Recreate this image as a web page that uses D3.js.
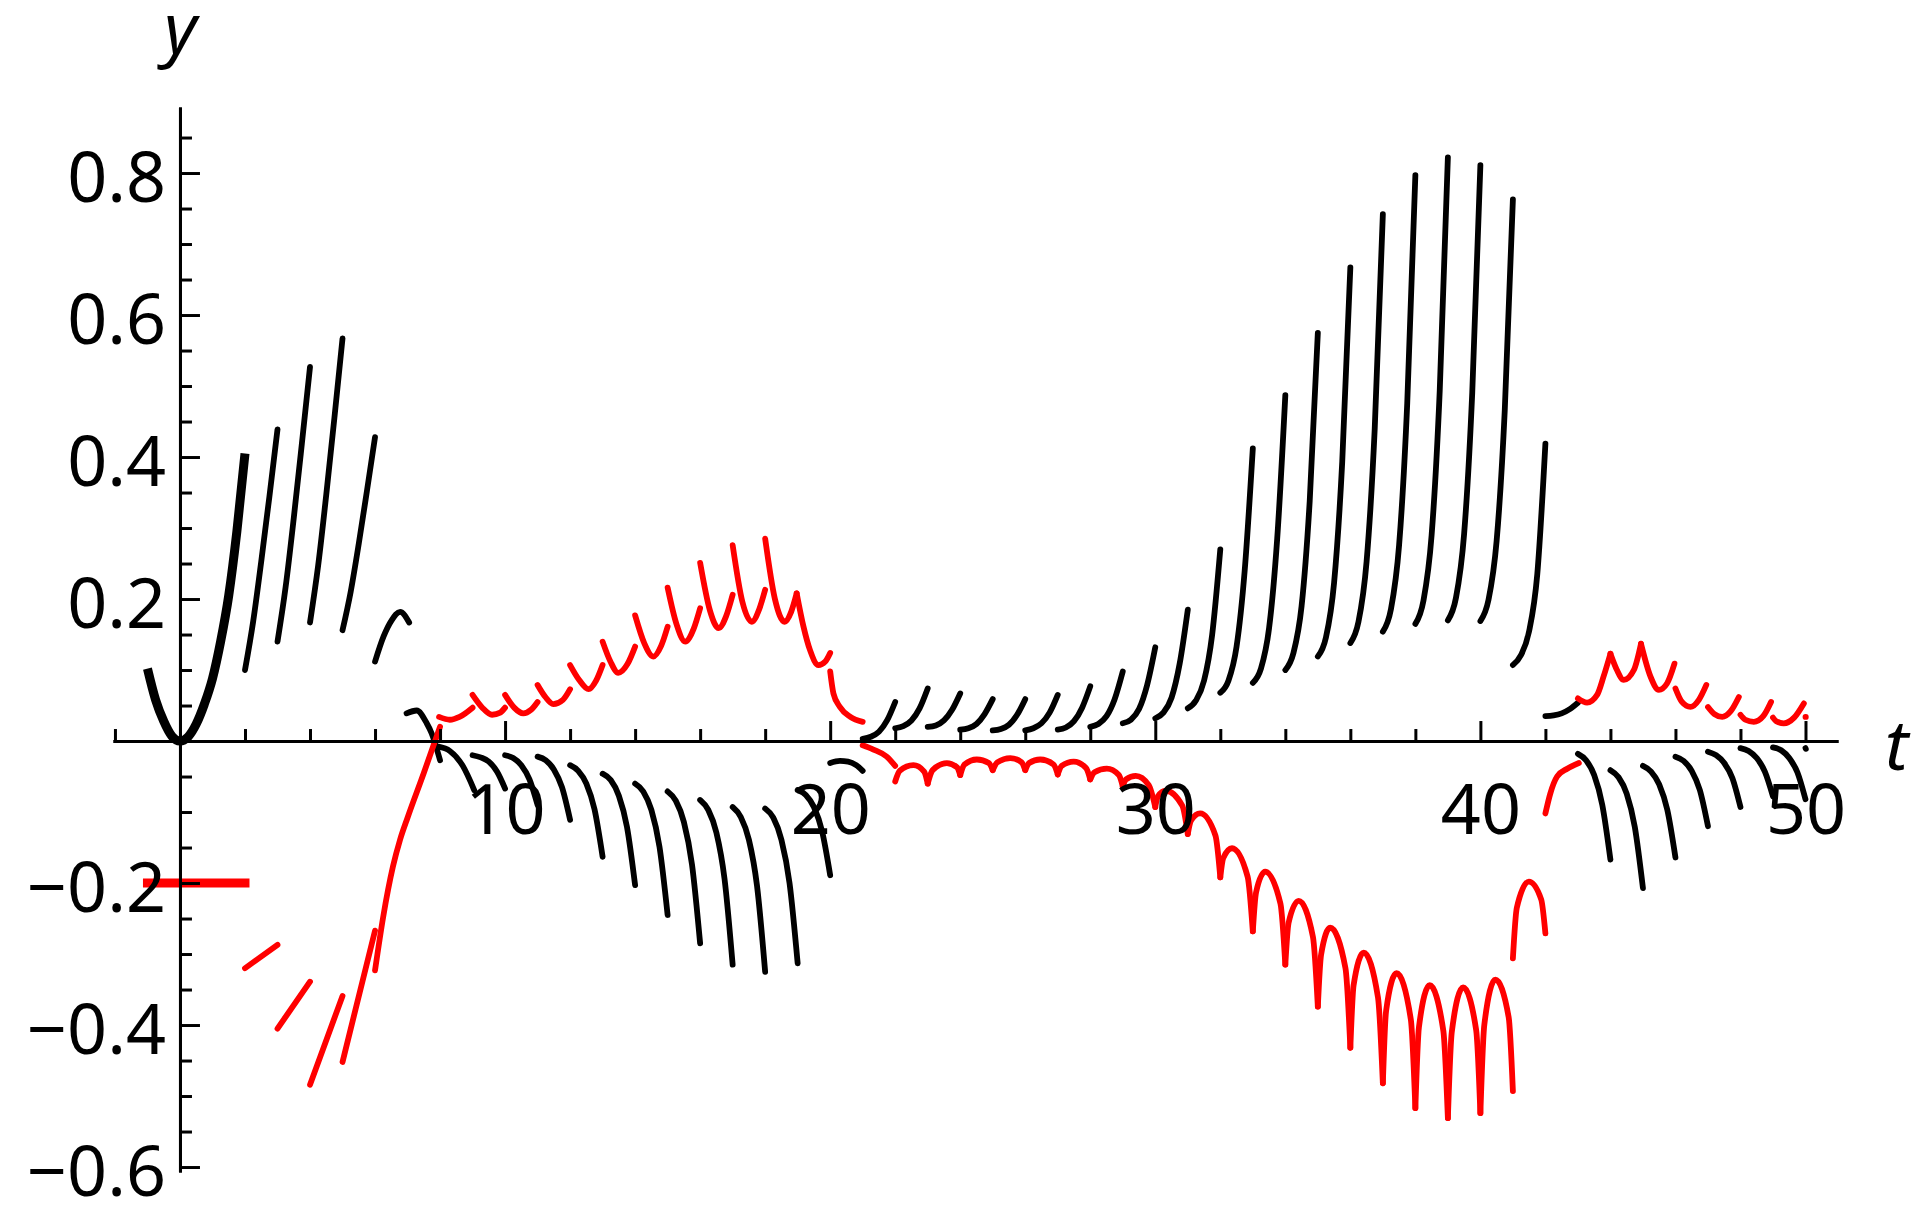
<!DOCTYPE html>
<html><head><meta charset="utf-8">
<script src="https://cdn.jsdelivr.net/npm/d3@7"></script>
<style>html,body{margin:0;padding:0;background:#fff;} svg{display:block;}</style>
</head><body>
<svg id="chart" width="1922" height="1214"></svg>
<script>
// ---------- tick definitions ----------
const xMajorTicks = [10, 20, 30, 40, 50];
const xMinorTicks = [-2, 2, 4, 6, 8, 12, 14, 16, 18, 22, 24, 26, 28, 32, 34, 36, 38, 42, 44, 46, 48];
const yMajorTicks = [-0.6, -0.4, -0.2, 0.2, 0.4, 0.6, 0.8];
const yMinorTicks = [-0.55, -0.5, -0.45, -0.35, -0.3, -0.25, -0.15, -0.1, -0.05, 0.05, 0.1, 0.15, 0.25, 0.3, 0.35, 0.45, 0.5, 0.55, 0.65, 0.7, 0.75, 0.85];

// ---------- data (t, y) ----------
const blackInitial = [[-1,0.102],[-0.75,0.058],[-0.5,0.028],[-0.25,0.007],[0,0],[0.25,0.006],[0.5,0.024],[0.75,0.052],[1,0.088],[1.25,0.14],[1.5,0.205],[1.75,0.295],[2,0.405]];
const redInitial = [[-1,-0.2],[2,-0.2]];

const blackEarly = [
 [[2,0.100],[2.25,0.168],[2.5,0.253],[2.75,0.344],[3,0.439]],
 [[3,0.140],[3.25,0.217],[3.5,0.314],[3.75,0.419],[4,0.527]],
 [[4,0.167],[4.25,0.247],[4.5,0.347],[4.75,0.455],[5,0.567]],
 [[5,0.156],[5.25,0.210],[5.5,0.278],[5.75,0.352],[6,0.428]],
 [[6,0.112],[6.26,0.147],[6.51,0.170],[6.77,0.182],[7.05,0.167]],
 [[6.97,0.039],[7.28,0.043],[7.59,0.025],[7.74,0.011],[8,-0.027]]
];

const blackLowA = [
 [[7.95,-0.008],[8.3,-0.014],[8.7,-0.035],[9.05,-0.069]],
 [[9,-0.020],[9.25,-0.023],[9.5,-0.029],[9.75,-0.043],[10,-0.067]],
 [[10,-0.020],[10.25,-0.024],[10.5,-0.034],[10.75,-0.054],[11,-0.090]],
 [[11,-0.022],[11.25,-0.027],[11.5,-0.040],[11.75,-0.065],[12,-0.111]],
 [[12,-0.034],[12.25,-0.042],[12.5,-0.060],[12.75,-0.096],[13,-0.163]],
 [[13,-0.046],[13.25,-0.055],[13.5,-0.077],[13.75,-0.121],[14,-0.203]],
 [[14,-0.060],[14.25,-0.071],[14.5,-0.097],[14.75,-0.149],[15,-0.245]],
 [[15,-0.071],[15.25,-0.084],[15.5,-0.114],[15.75,-0.174],[16,-0.285]],
 [[16,-0.083],[16.25,-0.097],[16.5,-0.129],[16.75,-0.194],[17,-0.315]],
 [[17,-0.093],[17.25,-0.107],[17.5,-0.139],[17.75,-0.204],[18,-0.325]],
 [[18,-0.095],[18.25,-0.108],[18.5,-0.139],[18.75,-0.200],[19,-0.313]],
 [[19,-0.069],[19.25,-0.076],[19.5,-0.093],[19.75,-0.127],[20,-0.189]],
 [[20,-0.031],[20.3,-0.028],[20.55,-0.029],[20.8,-0.034],[21,-0.042]]
];

const blackHigh = [
 [[21,0.003],[21.25,0.006],[21.5,0.013],[21.75,0.029],[22,0.055]],
 [[22,0.018],[22.25,0.021],[22.5,0.029],[22.75,0.046],[23,0.074]],
 [[23,0.020],[23.25,0.022],[23.5,0.029],[23.75,0.044],[24,0.067]],
 [[24,0.016],[24.25,0.018],[24.5,0.024],[24.75,0.038],[25,0.059]],
 [[25,0.015],[25.25,0.017],[25.5,0.023],[25.75,0.037],[26,0.059]],
 [[26,0.015],[26.25,0.018],[26.5,0.025],[26.75,0.040],[27,0.065]],
 [[27,0.016],[27.25,0.019],[27.5,0.028],[27.75,0.047],[28,0.077]],
 [[28,0.020],[28.25,0.024],[28.5,0.035],[28.75,0.059],[29,0.098]],
 [[29,0.025],[29.25,0.030],[29.5,0.045],[29.75,0.079],[30,0.132]],
 [[30,0.032],[30.25,0.040],[30.5,0.061],[30.75,0.109],[31,0.185]],
 [[31,0.046],[31.25,0.057],[31.5,0.085],[31.75,0.150],[32,0.270]],
 [[32,0.068],[32.25,0.085],[32.5,0.133],[32.75,0.240],[33,0.412]],
 [[33,0.082],[33.25,0.102],[33.5,0.159],[33.75,0.285],[34,0.487]],
 [[34,0.100],[34.25,0.124],[34.5,0.190],[34.75,0.338],[35,0.575]],
 [[35,0.119],[35.25,0.146],[35.5,0.223],[35.75,0.393],[36,0.667]],
 [[36,0.138],[36.25,0.168],[36.5,0.253],[36.75,0.440],[37,0.742]],
 [[37,0.154],[37.25,0.186],[37.5,0.276],[37.75,0.476],[38,0.797]],
 [[38,0.165],[38.25,0.198],[38.5,0.290],[38.75,0.494],[39,0.822]],
 [[39,0.170],[39.25,0.202],[39.5,0.292],[39.75,0.491],[40,0.811]],
 [[40,0.169],[40.25,0.199],[40.5,0.282],[40.75,0.466],[41,0.763]],
 [[41,0.107],[41.25,0.121],[41.5,0.155],[41.75,0.235],[42,0.419]],
 [[42,0.035],[42.25,0.036],[42.5,0.039],[42.75,0.045],[43,0.054]]
];

const blackLowB = [
 [[43,-0.018],[43.25,-0.027],[43.5,-0.048],[43.75,-0.090],[44,-0.167]],
 [[44,-0.041],[44.25,-0.051],[44.5,-0.074],[44.75,-0.121],[45,-0.207]],
 [[45,-0.035],[45.25,-0.043],[45.5,-0.061],[45.75,-0.097],[46,-0.164]],
 [[46,-0.022],[46.25,-0.028],[46.5,-0.042],[46.75,-0.069],[47,-0.120]],
 [[47,-0.015],[47.25,-0.020],[47.5,-0.031],[47.75,-0.052],[48,-0.093]],
 [[48,-0.010],[48.25,-0.014],[48.5,-0.024],[48.75,-0.043],[49,-0.078]],
 [[49,-0.009],[49.25,-0.013],[49.5,-0.024],[49.75,-0.044],[50,-0.082]],
 [[50,-0.010],[50.01,-0.011]]
];

const redEarly = [
 [[2,-0.320],[3,-0.287]],
 [[3,-0.405],[4,-0.339]],
 [[4,-0.484],[5,-0.359]],
 [[5,-0.452],[6,-0.267]],
 [[6,-0.323],[6.25,-0.248],[6.55,-0.177],[6.77,-0.139],[7,-0.108],[7.5,-0.045],[8,0.020]]
];

const redHighA = [
 [[7.97,0.034],[8.3,0.030],[8.6,0.034],[9,0.047]],
 [[9,0.065],[9.3,0.047],[9.6,0.037],[9.85,0.040],[10,0.047]],
 [[10,0.065],[10.28,0.047],[10.56,0.039],[10.8,0.044],[11,0.055]],
 [[11,0.079],[11.24,0.062],[11.48,0.052],[11.78,0.058],[12,0.073]],
 [[12,0.107],[12.28,0.086],[12.57,0.073],[12.8,0.085],[13,0.107]],
 [[13,0.140],[13.24,0.112],[13.48,0.096],[13.76,0.108],[14,0.133]],
 [[14,0.177],[14.28,0.138],[14.56,0.119],[14.8,0.134],[15,0.161]],
 [[15,0.216],[15.27,0.165],[15.54,0.140],[15.8,0.158],[16,0.187]],
 [[16,0.251],[16.3,0.184],[16.57,0.159],[16.8,0.176],[17,0.206]],
 [[17,0.276],[17.3,0.196],[17.59,0.168],[17.82,0.186],[18,0.213]],
 [[18,0.285],[18.3,0.200],[18.6,0.168],[18.8,0.182],[18.97,0.208]],
 [[18.97,0.208],[19.18,0.161],[19.38,0.128],[19.64,0.107],[19.85,0.112],[20,0.124]],
 [[20,0.098],[20.1,0.067],[20.3,0.048],[20.62,0.034],[21,0.027]]
];

const redLowA = [
 [[21,-0.006],[21.33,-0.012],[21.74,-0.022],[22,-0.035]],
 [[22,-0.057],[22.14,-0.042],[22.56,-0.034],[22.89,-0.043],[23,-0.060]],
 [[23,-0.060],[23.15,-0.041],[23.59,-0.031],[23.90,-0.037],[24,-0.048]],
 [[24,-0.048],[24.13,-0.033],[24.51,-0.026],[24.88,-0.031],[25,-0.041]],
 [[25,-0.041],[25.14,-0.030],[25.54,-0.024],[25.89,-0.030],[26,-0.041]],
 [[26,-0.041],[26.12,-0.031],[26.46,-0.026],[26.87,-0.033],[27,-0.047]],
 [[27,-0.047],[27.12,-0.035],[27.49,-0.029],[27.87,-0.038],[28,-0.054]],
 [[28,-0.054],[28.13,-0.044],[28.51,-0.039],[28.88,-0.048],[29,-0.064]],
 [[29,-0.064],[29.1,-0.054],[29.4,-0.049],[29.8,-0.062],[30,-0.093]],
 [[30,-0.093],[30.08,-0.078],[30.32,-0.070],[30.83,-0.091],[31,-0.131]],
 [[31,-0.131],[31.1,-0.112],[31.38,-0.102],[31.85,-0.133],[32,-0.192]],
 [[32,-0.192],[32.09,-0.165],[32.36,-0.151],[32.84,-0.191],[33,-0.268]],
 [[33,-0.268],[33.1,-0.213],[33.38,-0.184],[33.85,-0.229],[34,-0.315]],
 [[34,-0.315],[34.1,-0.256],[34.41,-0.225],[34.85,-0.276],[35,-0.374]],
 [[35,-0.374],[35.1,-0.301],[35.38,-0.263],[35.85,-0.320],[36,-0.432]],
 [[36,-0.432],[36.1,-0.344],[36.41,-0.298],[36.85,-0.361],[37,-0.482]],
 [[37,-0.482],[37.1,-0.380],[37.42,-0.327],[37.86,-0.392],[38,-0.517]],
 [[38,-0.517],[38.11,-0.403],[38.44,-0.344],[38.86,-0.408],[39,-0.531]],
 [[39,-0.531],[39.12,-0.410],[39.47,-0.347],[39.87,-0.407],[40,-0.524]],
 [[40,-0.524],[40.12,-0.400],[40.46,-0.336],[40.87,-0.389],[41,-0.493]],
 [[41,-0.306],[41.12,-0.235],[41.49,-0.198],[41.87,-0.223],[42,-0.271]],
 [[42,-0.102],[42.15,-0.074],[42.36,-0.050],[42.67,-0.039],[43.03,-0.031]]
];

const redHighB = [
 [[43,0.060],[43.28,0.054],[43.59,0.065],[43.79,0.091],[44,0.123]],
 [[44,0.123],[44.2,0.100],[44.41,0.086],[44.72,0.100],[44.94,0.137]],
 [[44.94,0.137],[45.23,0.091],[45.49,0.072],[45.74,0.081],[45.97,0.109]],
 [[46,0.074],[46.2,0.055],[46.46,0.048],[46.72,0.058],[46.95,0.079]],
 [[47,0.048],[47.2,0.038],[47.44,0.034],[47.7,0.042],[47.95,0.062]],
 [[48,0.037],[48.15,0.030],[48.41,0.027],[48.7,0.035],[48.94,0.055]],
 [[49,0.033],[49.1,0.028],[49.33,0.025],[49.65,0.033],[49.95,0.053]],
 [[50,0.034],[50.01,0.034]]
];

// ---------- drawing ----------
const fontFam = "'Noto Sans', 'DejaVu Sans', sans-serif";
const svg = d3.select("#chart");
const x = d3.scaleLinear().domain([-2.06, 51.0]).range([113, 1838]);
const y = d3.scaleLinear().domain([-0.607, 0.893]).range([1172, 107]);
const line = d3.line().x(d => x(d[0])).y(d => y(d[1])).curve(d3.curveMonotoneX);

const thin = 5.8, thick = 9;

function drawSegs(segs, color, width, cap) {
  svg.append("g").selectAll("path").data(segs).join("path")
    .attr("d", line)
    .attr("fill", "none")
    .attr("stroke", color)
    .attr("stroke-width", width)
    .attr("stroke-linecap", cap || "round")
    .attr("stroke-linejoin", "round");
}

drawSegs([blackInitial], "#000", thick, "butt");
drawSegs(blackEarly, "#000", thin);
drawSegs(blackLowA, "#000", thin);
drawSegs(blackHigh, "#000", thin);
drawSegs(blackLowB, "#000", thin);
drawSegs([redInitial], "#ff0000", thick, "square");
drawSegs(redEarly, "#ff0000", thin);
drawSegs(redHighA, "#ff0000", thin);
drawSegs(redLowA, "#ff0000", thin);
drawSegs(redHighB, "#ff0000", thin);

const fmtY = d => (d < 0 ? "\u2212" : "") + Math.abs(d).toFixed(1);

function styleAxis(g) {
  g.attr("font-size", 70).attr("font-family", fontFam);
  g.selectAll("path, line").attr("stroke", "#000").attr("stroke-width", 3);
  g.selectAll("text").attr("fill", "#000");
}

const gxMinor = svg.append("g").attr("transform", `translate(0,${y(0)})`)
  .call(d3.axisBottom(x).tickValues(xMinorTicks).tickSize(-12).tickSizeOuter(0).tickFormat(""));
styleAxis(gxMinor);
const gxMajor = svg.append("g").attr("transform", `translate(0,${y(0)})`)
  .call(d3.axisBottom(x).tickValues(xMajorTicks).tickSize(-20).tickSizeOuter(0).tickPadding(43).tickFormat(d3.format("d")));
styleAxis(gxMajor);

const gyMinor = svg.append("g").attr("transform", `translate(${x(0)},0)`)
  .call(d3.axisLeft(y).tickValues(yMinorTicks).tickSize(-12).tickSizeOuter(0).tickFormat(""));
styleAxis(gyMinor);
const gyMajor = svg.append("g").attr("transform", `translate(${x(0)},0)`)
  .call(d3.axisLeft(y).tickValues(yMajorTicks).tickSize(-20).tickSizeOuter(0).tickPadding(14).tickFormat(fmtY));
styleAxis(gyMajor);
gyMajor.selectAll("text").attr("dy", "0.4em");

svg.append("text").text("t")
  .attr("x", x(51.0) + 47).attr("y", y(0) + 29)
  .attr("font-family", fontFam).attr("font-style", "italic").attr("font-size", 70).attr("fill", "#000");
svg.append("text").text("y")
  .attr("x", x(0) - 16).attr("y", 53)
  .attr("font-family", fontFam).attr("font-style", "italic").attr("font-size", 70).attr("fill", "#000");
</script>
</body></html>
